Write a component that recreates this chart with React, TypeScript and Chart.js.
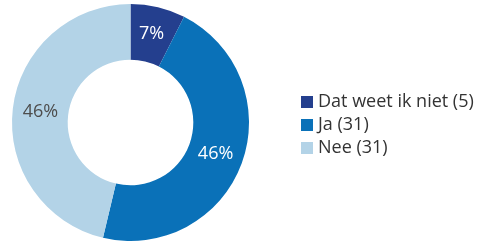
import React, { useEffect, useRef } from "react";
import { Chart, registerables } from "chart.js";

Chart.register(...registerables);

const categories = ["Dat weet ik niet", "Ja", "Nee"];
const counts = [5, 31, 31];
const colors = ["#243f8e", "#0a71b8", "#b3d3e7"];
const labelColors = ["#ffffff", "#ffffff", "#4d4d4d"];

const FONT = "'Open Sans', sans-serif";

const pctPlugin = {
  id: "pctLabels",
  afterDatasetsDraw(chart: any) {
    const ctx = chart.ctx;
    const meta = chart.getDatasetMeta(0);
    const total = counts.reduce((a, b) => a + b, 0);
    ctx.save();
    ctx.font = `18px ${FONT}`;
    ctx.textAlign = "center";
    ctx.textBaseline = "middle";
    meta.data.forEach((arc: any, i: number) => {
      const p = arc.getCenterPoint();
      ctx.fillStyle = labelColors[i];
      ctx.fillText(Math.round((counts[i] / total) * 100) + "%", p.x, p.y);
    });
    ctx.restore();
  },
};

const legendPlugin = {
  id: "customLegend",
  afterDraw(chart: any) {
    const ctx = chart.ctx;
    const x0 = 301;
    const y0 = 102;
    const step = 23;
    const box = 12;
    ctx.save();
    ctx.font = `18px ${FONT}`;
    ctx.textAlign = "left";
    ctx.textBaseline = "middle";
    categories.forEach((c, i) => {
      const y = y0 + i * step;
      ctx.fillStyle = colors[i];
      ctx.fillRect(x0, y - box / 2, box, box);
      ctx.fillStyle = "#333333";
      ctx.fillText(`${c} (${counts[i]})`, x0 + 17, y);
    });
    ctx.restore();
  },
};

export default function App() {
  const ref = useRef<HTMLCanvasElement>(null);
  useEffect(() => {
    document.body.style.margin = "0";
    const chart = new Chart(ref.current!, {
      type: "doughnut",
      data: {
        labels: categories,
        datasets: [
          {
            data: counts,
            backgroundColor: colors,
            borderWidth: 0,
            hoverOffset: 0,
            offset: 0,
          },
        ],
      },
      options: {
        responsive: false,
        animation: false,
        cutout: "53%",
        layout: { padding: { left: 12, top: 4, right: 233, bottom: 1 } },
        plugins: { legend: { display: false }, tooltip: { enabled: false } },
      },
      plugins: [pctPlugin, legendPlugin],
    });
    return () => chart.destroy();
  }, []);
  return (
    <div style={{ position: "absolute", left: 0, top: 0, width: 482, height: 242 }}>
      <canvas ref={ref} width={482} height={242} style={{ display: "block" }} />
    </div>
  );
}
